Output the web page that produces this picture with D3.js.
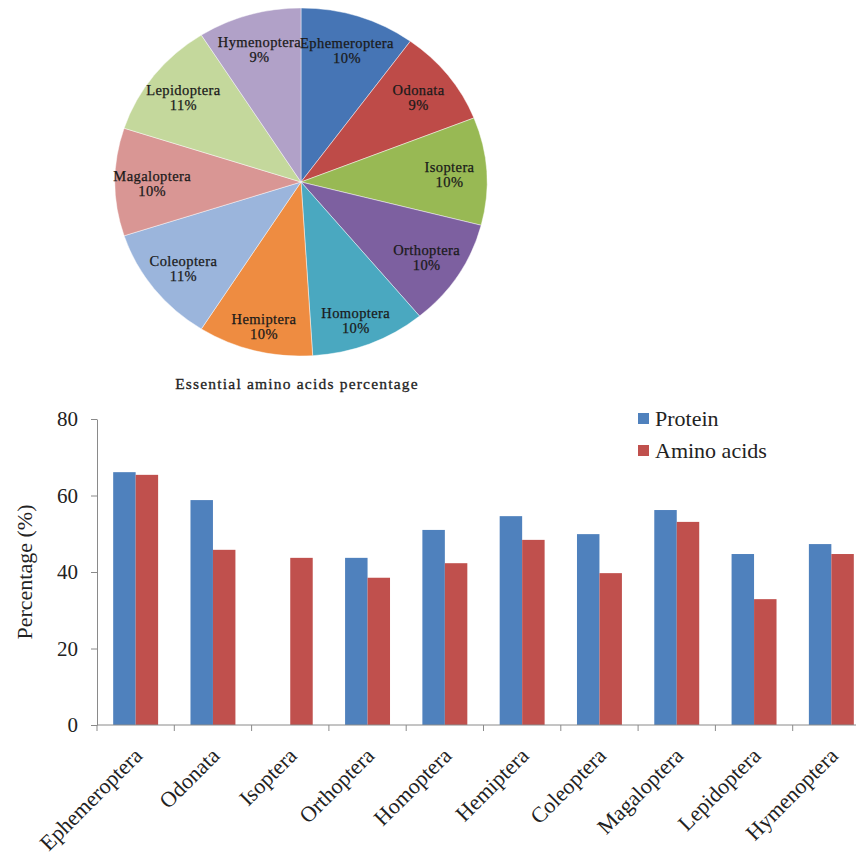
<!DOCTYPE html>
<html>
<head>
<meta charset="utf-8">
<script src="https://cdn.jsdelivr.net/npm/d3@7"></script>
<style>
  body { margin: 0; background: #fff; }
  text { font-family: "Liberation Serif", "Times New Roman", serif; }
</style>
</head>
<body>
<svg id="chart" width="856" height="863"></svg>
<script>
// Insect orders shared by both charts
const orders = ["Ephemeroptera", "Odonata", "Isoptera", "Orthoptera", "Homoptera",
                "Hemiptera", "Coleoptera", "Magaloptera", "Lepidoptera", "Hymenoptera"];

// Pie: share of essential amino acids (%)
const essentialShare = [10, 9, 10, 10, 10, 10, 11, 10, 11, 9];
const sliceColors = ["#4675B5", "#BE4B48", "#98B954", "#7D60A0", "#4AA8C0",
                     "#EE8C41", "#9BB5DC", "#D99694", "#C4D89C", "#B1A1C8"];
const pieTitle = "Essential amino acids percentage";

// Bars: protein and amino acid content (%)
const seriesNames = ["Protein", "Amino acids"];
const seriesColors = ["#4F81BD", "#C0504D"];
const protein    = [66.1, 58.8, 0, 43.7, 51.0, 54.6, 49.9, 56.2, 44.7, 47.3];
const aminoAcids = [65.4, 45.8, 43.7, 38.5, 42.3, 48.4, 39.7, 53.1, 32.9, 44.7];
const yTicks = [0, 20, 40, 60, 80];
const yTitle = "Percentage (%)";

const svg = d3.select("#chart");

// ---------- Pie (drawn as a slightly wide ellipse) ----------
const pcx = 301, pcy = 182, rx = 186, ry = 174;
const pie = d3.pie().sort(null).value(d => d)(essentialShare);
const arc = d3.arc().innerRadius(0).outerRadius(ry);

const pieG = svg.append("g")
  .attr("transform", `translate(${pcx},${pcy}) scale(${rx / ry},1)`);
pieG.selectAll("path").data(pie).join("path")
  .attr("d", arc)
  .attr("fill", (d, i) => sliceColors[i])
  .attr("stroke", "rgba(255,255,255,0.45)")
  .attr("stroke-width", 1)
  .attr("vector-effect", "non-scaling-stroke");

const labelK = 0.8;
const labels = svg.append("g");
pie.forEach((d, i) => {
  const a = (d.startAngle + d.endAngle) / 2;
  const lx = pcx + rx * labelK * Math.sin(a);
  // labels in the lower half sit a little further out
  const ly = pcy - ry * (labelK + (Math.cos(a) < -0.8 ? 0.05 : 0)) * Math.cos(a);
  const t = labels.append("text")
    .attr("x", lx).attr("y", ly)
    .attr("text-anchor", "middle")
    .attr("font-size", 14.5)
    .attr("letter-spacing", 0.4)
    .attr("fill", "#1a1a1a")
    .attr("stroke", "#1a1a1a")
    .attr("stroke-width", 0.25);
  t.append("tspan").attr("x", lx).attr("dy", "-0.1em").text(orders[i]);
  t.append("tspan").attr("x", lx).attr("dy", "1.05em").text(essentialShare[i] + "%");
});

svg.append("text")
  .attr("x", 297).attr("y", 389)
  .attr("text-anchor", "middle")
  .attr("font-size", 15.5)
  .attr("letter-spacing", 1.2)
  .attr("fill", "#222")
  .attr("stroke", "#222")
  .attr("stroke-width", 0.3)
  .text(pieTitle);

// ---------- Grouped bar chart ----------
const plotLeft = 97, plotTop = 419, plotBottom = 725, step = 77.3;
const x0 = d3.scaleBand().domain(orders).range([plotLeft, plotLeft + step * orders.length]).padding(0);
const x1 = d3.scaleBand().domain(seriesNames).range([0, x0.bandwidth()]).paddingInner(0).paddingOuter(0.72);
const y = d3.scaleLinear().domain([0, 80]).range([plotBottom, plotTop]);

const rows = orders.map((o, i) => ({ order: o, values: [protein[i], aminoAcids[i]] }));

const barsG = svg.append("g");
barsG.selectAll("g").data(rows).join("g")
  .attr("transform", d => `translate(${x0(d.order)},0)`)
  .selectAll("rect")
  .data(d => d.values.map((v, j) => ({ name: seriesNames[j], v, j })))
  .join("rect")
  .attr("x", d => x1(d.name))
  .attr("width", x1.bandwidth())
  .attr("y", d => y(d.v))
  .attr("height", d => y(0) - y(d.v))
  .attr("fill", d => seriesColors[d.j]);

// Y axis
const yAxis = svg.append("g")
  .attr("transform", `translate(${plotLeft},0)`)
  .call(d3.axisLeft(y).tickValues(yTicks).tickSize(6).tickPadding(13).tickSizeOuter(0));
yAxis.select(".domain").attr("stroke", "#8a8a8a");
yAxis.selectAll(".tick line").attr("stroke", "#8a8a8a");
yAxis.selectAll(".tick text")
  .attr("font-family", "'Liberation Sans', Arial, sans-serif")
  .attr("font-size", 21)
  .attr("fill", "#222");

// X axis: line with ticks between categories
const xAxisG = svg.append("g");
const xEnd = x0.range()[1];
xAxisG.append("line")
  .attr("x1", plotLeft).attr("x2", xEnd)
  .attr("y1", plotBottom).attr("y2", plotBottom)
  .attr("stroke", "#8a8a8a");
const boundaries = orders.map(o => x0(o)).concat([xEnd]);
xAxisG.selectAll("line.tk").data(boundaries).join("line")
  .attr("class", "tk")
  .attr("x1", d => d).attr("x2", d => d)
  .attr("y1", plotBottom).attr("y2", plotBottom + 6)
  .attr("stroke", "#8a8a8a");
xAxisG.selectAll("text").data(orders).join("text")
  .attr("transform", d => `translate(${x0(d) + x0.bandwidth() / 2 + 8},${plotBottom + 32}) rotate(-45)`)
  .attr("text-anchor", "end")
  .attr("font-size", 22)
  .attr("fill", "#222")
  .text(d => d);

// Y axis title
svg.append("text")
  .attr("transform", `translate(32,${(plotTop + plotBottom) / 2}) rotate(-90)`)
  .attr("text-anchor", "middle")
  .attr("font-size", 22)
  .attr("fill", "#222")
  .text(yTitle);

// Legend
const legend = svg.append("g").attr("transform", "translate(638,413)");
seriesNames.forEach((name, i) => {
  const g = legend.append("g").attr("transform", `translate(0,${i * 32})`);
  g.append("rect").attr("width", 11).attr("height", 11).attr("fill", seriesColors[i]);
  g.append("text").attr("x", 17).attr("y", 13)
    .attr("font-size", 22).attr("fill", "#222").text(name);
});
</script>
</body>
</html>
